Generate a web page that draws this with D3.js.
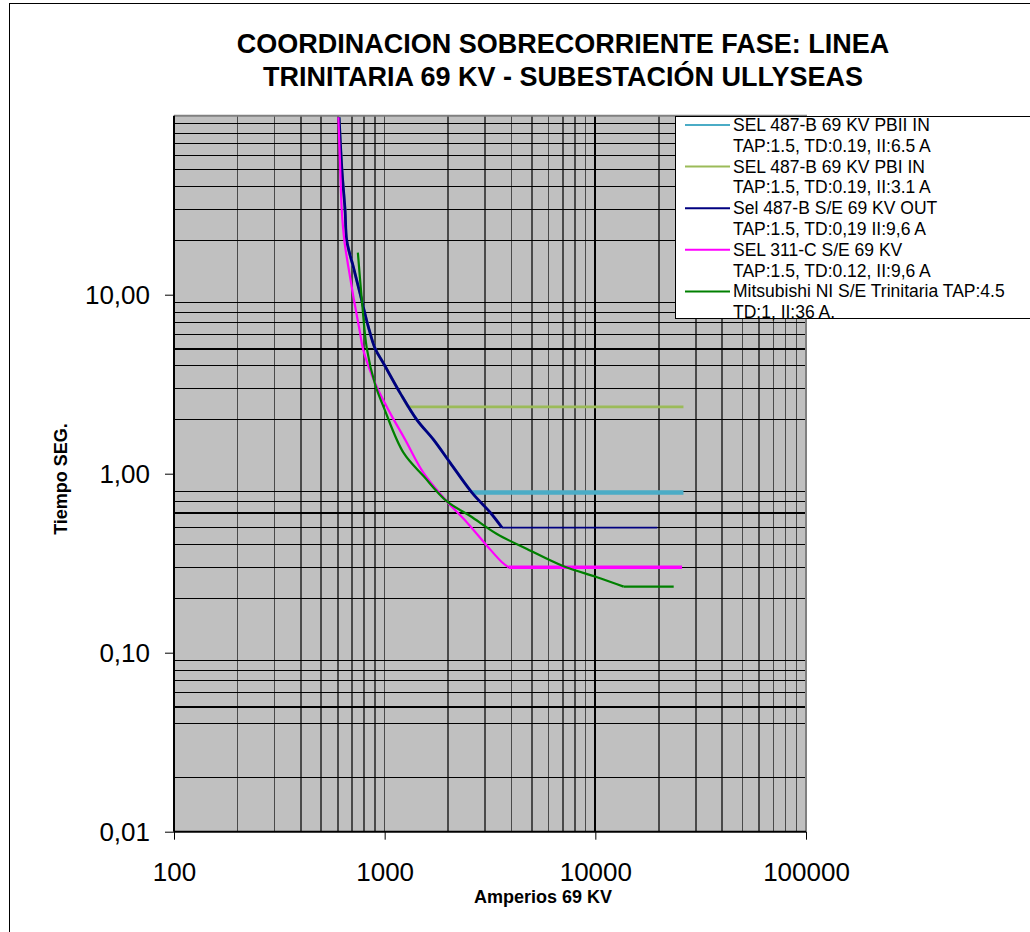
<!DOCTYPE html>
<html>
<head>
<meta charset="utf-8">
<script src="https://cdn.jsdelivr.net/npm/d3@7"></script>
<style>
  html, body { margin: 0; padding: 0; background: #fff; }
  svg { display: block; font-family: "Liberation Sans", Arial, sans-serif; }
</style>
</head>
<body>
<svg id="chart" width="1030" height="932"></svg>
<script>
// ---------- DATA ----------
const titleLines = ["COORDINACION SOBRECORRIENTE FASE: LINEA", "TRINITARIA 69 KV - SUBESTACIÓN ULLYSEAS"];
const xLabel = "Amperios  69 KV";
const yLabel = "Tiempo SEG.";

const xTicks = [100, 1000, 10000, 100000];
const xTickLabels = ["100", "1000", "10000", "100000"];
const yTicks = [0.01, 0.1, 1, 10];
const yTickLabels = ["0,01", "0,10", "1,00", "10,00"];

const vGridMinor = [200, 300, 400, 500, 600, 700, 800, 900, 1000,
                    2000, 3000, 4000, 5000, 6000, 7000, 8000, 9000,
                    20000, 30000, 40000, 50000, 60000, 70000, 80000, 90000];
const vGridMajor = [10000];
const hGrid = [90, 80, 70, 60, 50, 40, 30, 20,
               9, 8, 7, 6, 4, 3, 2,
               0.8, 0.7, 0.5, 0.4, 0.3, 0.2,
               0.09, 0.08, 0.07, 0.06, 0.04, 0.02];
const hGridBold = [5, 0.6, 0.05];

// series: [amperes, seconds]; last point is the end of the flat (instantaneous) part
const selPBII = [[608, 98], [626, 51], [649, 29.4], [661, 20], [711, 14.2], [765, 10.1], [837, 6.6],
                 [901, 5.0], [987, 4.14], [1185, 2.82], [1422, 2.0], [1705, 1.55], [2047, 1.15],
                 [2596, 0.784], [26200, 0.784]];
const selPBI = [[608, 98], [626, 51], [649, 29.4], [661, 20], [711, 14.2], [765, 10.1], [837, 6.6],
                [901, 5.0], [987, 4.14], [1185, 2.82], [1290, 2.36], [26200, 2.36]];
const selOUT = [[608, 98], [626, 51], [649, 29.4], [661, 20], [711, 14.2], [765, 10.1], [837, 6.6],
                [901, 5.0], [987, 4.14], [1185, 2.82], [1422, 2.0], [1705, 1.55], [2047, 1.15],
                [2596, 0.784], [3171, 0.607], [3605, 0.50], [19700, 0.50]];
const sel311 = [[603, 98], [615, 51], [626, 29.4], [644, 20], [673, 14.2], [711, 9.7], [765, 6.07],
                [788, 5.0], [901, 3.2], [1062, 2.18], [1251, 1.55], [1529, 1.01], [1975, 0.70],
                [2458, 0.534], [3059, 0.396], [3605, 0.32], [3873, 0.30], [25800, 0.30]];
const mitsubishi = [[746, 17.2], [779, 9.4], [823, 5.0], [901, 3.15], [987, 2.37], [1228, 1.31],
                    [1529, 0.97], [1975, 0.70], [2549, 0.58], [3412, 0.46], [4738, 0.38],
                    [7071, 0.304], [10190, 0.264], [13630, 0.234], [23550, 0.234]];

const seriesNames = [
  ["SEL 487-B 69 KV PBII IN", "TAP:1.5, TD:0.19, II:6.5 A"],
  ["SEL 487-B  69 KV PBI IN", "TAP:1.5, TD:0.19, II:3.1 A"],
  ["Sel 487-B S/E 69 KV OUT", "TAP:1.5, TD:0,19 II:9,6 A"],
  ["SEL 311-C S/E 69 KV", "TAP:1.5, TD:0.12, II:9,6 A"],
  ["Mitsubishi NI S/E Trinitaria TAP:4.5", "TD:1, II:36 A."]
];
const seriesColors = ["#4BACC6", "#9BBB59", "#000080", "#FF00FF", "#008000"];

// ---------- DRAW ----------
const svg = d3.select("#chart");
const L = 174, R = 806, T = 115.7, B = 831.7;
const x = d3.scaleLog().domain([100, 100000]).range([L, R]);
const y = d3.scaleLog().domain([0.01, 100]).range([B, T]);

// outer frame
svg.append("rect").attr("x", 9.5).attr("y", 3.5).attr("width", 1040).attr("height", 950)
  .attr("fill", "#fff").attr("stroke", "#000").attr("stroke-width", 1);

// title
const title = svg.append("text").attr("text-anchor", "middle")
  .attr("font-size", 27).attr("font-weight", "bold").attr("fill", "#000");
title.append("tspan").attr("x", 563).attr("y", 53).text(titleLines[0]);
title.append("tspan").attr("x", 563).attr("y", 86).text(titleLines[1]);

// plot background
svg.append("rect").attr("x", L).attr("y", T).attr("width", R - L).attr("height", B - T)
  .attr("fill", "#C0C0C0");

const grid = svg.append("g").attr("shape-rendering", "crispEdges");
grid.selectAll(".vmin").data(vGridMinor).join("line")
  .attr("x1", d => x(d)).attr("x2", d => x(d)).attr("y1", T).attr("y2", B)
  .attr("stroke", "#4a4a4a").attr("stroke-width", 1.6);
grid.selectAll(".vmaj").data(vGridMajor).join("line")
  .attr("x1", d => x(d)).attr("x2", d => x(d)).attr("y1", T).attr("y2", B)
  .attr("stroke", "#000").attr("stroke-width", 2);
grid.selectAll(".hmin").data(hGrid).join("line")
  .attr("x1", L).attr("x2", R).attr("y1", d => y(d)).attr("y2", d => y(d))
  .attr("stroke", "#000").attr("stroke-width", 1);
grid.selectAll(".hbold").data(hGridBold).join("line")
  .attr("x1", L).attr("x2", R).attr("y1", d => y(d)).attr("y2", d => y(d))
  .attr("stroke", "#000").attr("stroke-width", 2);

// plot border top/right (gray)
svg.append("path").attr("d", `M${L},${T}H${R}V${B}`).attr("fill", "none")
  .attr("stroke", "#808080").attr("stroke-width", 2);

// series
svg.append("clipPath").attr("id", "clip").append("rect")
  .attr("x", L).attr("y", T).attr("width", R - L).attr("height", B - T);
const gS = svg.append("g").attr("clip-path", "url(#clip)");
const curveLine = d3.line().x(d => x(d[0])).y(d => y(d[1])).curve(d3.curveCatmullRom.alpha(0.5));
const flatLine = d3.line().x(d => x(d[0])).y(d => y(d[1]));
const allSeries = [selPBII, selPBI, selOUT, sel311, mitsubishi];
const curveW = [2.5, 2.5, 2.8, 2.2, 2.2];
const flatW = [4.5, 2.8, 1.8, 3.4, 2.2];
allSeries.forEach((s, i) => {
  const curvePart = s.slice(0, s.length - 1);
  const flatPart = s.slice(s.length - 2);
  gS.append("path").attr("d", curveLine(curvePart)).attr("fill", "none")
    .attr("stroke", seriesColors[i]).attr("stroke-width", curveW[i]).attr("stroke-linejoin", "round");
  gS.append("path").attr("d", flatLine(flatPart)).attr("fill", "none")
    .attr("stroke", seriesColors[i]).attr("stroke-width", flatW[i]);
});

// axes
const yAxis = d3.axisLeft(y).tickValues(yTicks).tickSize(9).tickPadding(15)
  .tickFormat((d, i) => yTickLabels[i]);
const gy = svg.append("g").attr("transform", `translate(${L},0)`).call(yAxis);
gy.select(".domain").attr("stroke", "#000").attr("stroke-width", 2).attr("d", `M0,${T}V${B}`);
gy.selectAll(".tick line").attr("stroke", "#000");
gy.selectAll(".tick text").attr("font-size", 26).attr("fill", "#000")
  .attr("font-family", "'Liberation Sans', Arial, sans-serif");

const xAxis = d3.axisBottom(x).tickValues(xTicks).tickSize(8).tickPadding(23)
  .tickFormat((d, i) => xTickLabels[i]);
const gx = svg.append("g").attr("transform", `translate(0,${B})`).call(xAxis);
gx.select(".domain").attr("stroke", "#000").attr("stroke-width", 2).attr("d", `M${L},0H${R}`);
gx.selectAll(".tick line").attr("stroke", "#000");
gx.selectAll(".tick text").attr("font-size", 26).attr("fill", "#000")
  .attr("font-family", "'Liberation Sans', Arial, sans-serif");

// axis titles
svg.append("text").attr("x", 612).attr("y", 903).attr("text-anchor", "end")
  .attr("font-size", 18).attr("font-weight", "bold").attr("fill", "#000").text(xLabel);
svg.append("text").attr("transform", "translate(67,479) rotate(-90)").attr("text-anchor", "middle")
  .attr("font-size", 18).attr("font-weight", "bold").attr("fill", "#000").text(yLabel);

// legend
const lg = svg.append("g");
lg.append("rect").attr("x", 675.5).attr("y", 116.5).attr("width", 420).attr("height", 202)
  .attr("fill", "#fff").attr("stroke", "#000").attr("stroke-width", 1);
const lineH = 20.8, ly0 = 125;
seriesNames.forEach((names, i) => {
  const yy = ly0 + i * 2 * lineH;
  lg.append("line").attr("x1", 685).attr("x2", 730).attr("y1", yy).attr("y2", yy)
    .attr("stroke", seriesColors[i]).attr("stroke-width", 2);
  names.forEach((t, j) => {
    lg.append("text").attr("x", 733).attr("y", yy + j * lineH + 6)
      .attr("font-size", 17.5).attr("fill", "#000").text(t);
  });
});
</script>
</body>
</html>
